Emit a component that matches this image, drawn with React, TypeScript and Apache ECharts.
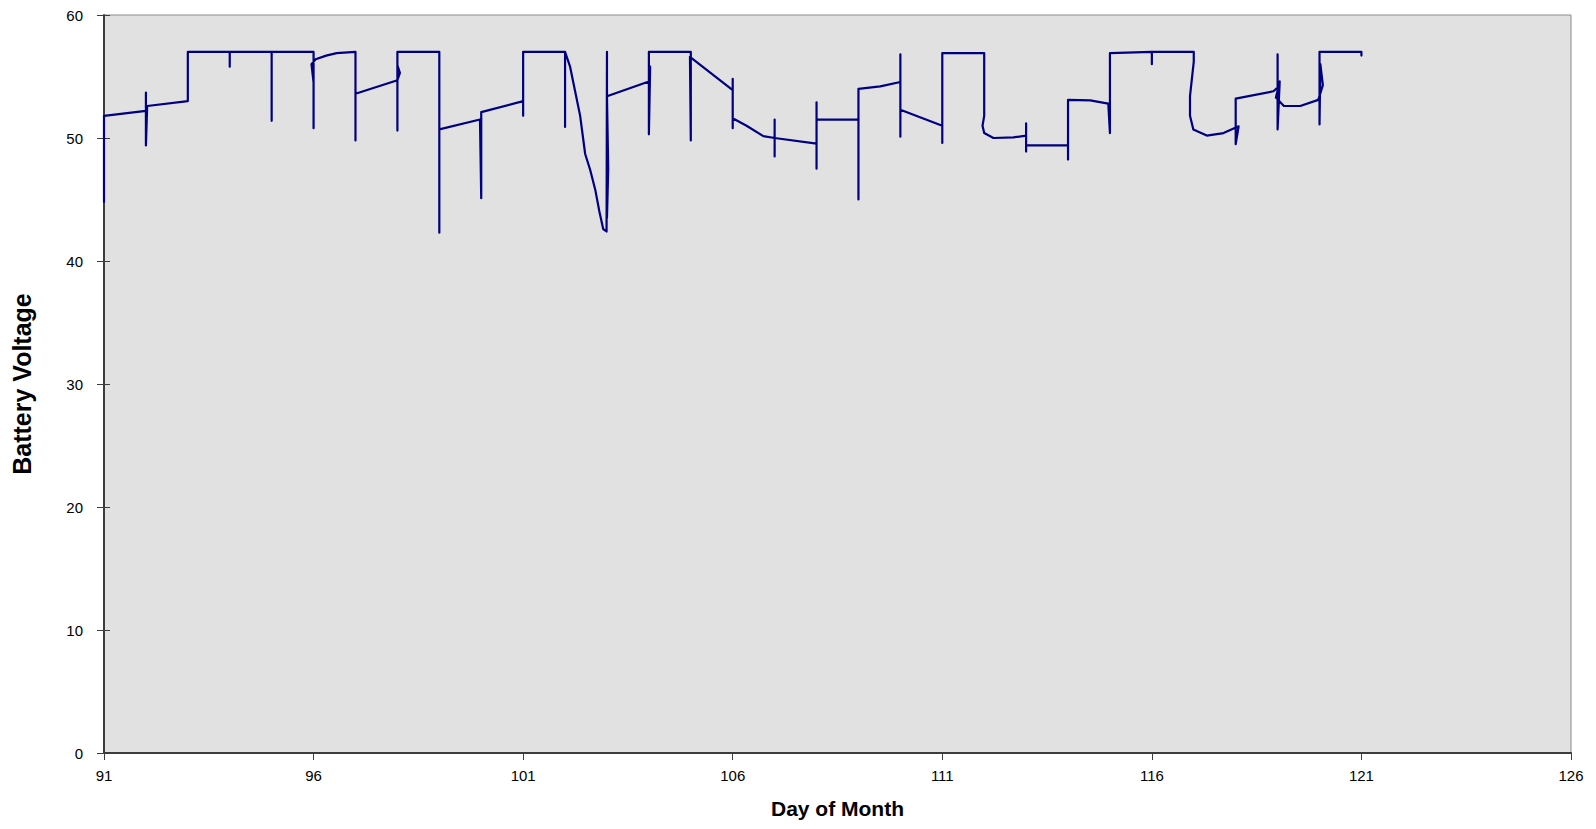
import React, { useEffect, useRef } from "react";
import * as echarts from "echarts";

// Day of month (x) and battery voltage (y), in drawing order of the trace
const dayValues: number[] = [
  91.0, 91.0, 92.0, 92.0, 92.0, 92.03, 93.0, 93.0, 93.0, 94.0, 94.0, 94.0,
  95.0, 95.0, 95.0, 96.0, 96.0, 96.0, 95.95, 96.05, 96.3, 96.55, 97.0, 97.0,
  97.0, 98.0, 98.06, 98.0, 98.0, 98.0, 99.0, 99.0, 99.0, 99.97, 100.0, 100.0,
  101.0, 101.0, 101.0, 102.0, 102.0, 102.0, 102.12, 102.24, 102.36, 102.48,
  102.6, 102.72, 102.82, 102.91, 102.99, 103.0, 103.0, 103.03, 103.0, 104.0,
  104.03, 104.0, 104.0, 105.0, 105.0, 104.98, 106.0, 106.0, 106.0, 106.0,
  106.33, 106.73, 107.0, 107.0, 107.0, 107.0, 108.0, 108.0, 108.0, 108.0,
  109.0, 109.0, 109.0, 109.52, 110.0, 110.0, 110.0, 110.0, 111.0, 111.0,
  111.0, 112.0, 112.0, 111.96, 112.0, 112.22, 112.7, 113.0, 113.0, 113.0,
  113.0, 114.0, 114.0, 114.0, 114.53, 114.96, 115.0, 115.0, 116.0, 116.0,
  116.0, 117.0, 117.0, 116.91, 116.91, 116.99, 117.31, 117.71, 118.07, 118.0,
  118.0, 118.9, 119.0, 119.0, 119.0, 119.05, 118.96, 119.15, 119.54, 119.97,
  120.08, 120.02, 120.0, 120.0, 121.0, 121.0,
];

const voltValues: number[] = [
  44.8, 51.8, 52.2, 53.7, 49.4, 52.6, 53.0, 53.2, 57.0, 57.0, 55.8, 57.0,
  57.0, 51.4, 57.0, 57.0, 50.8, 54.5, 56.0, 56.4, 56.7, 56.9, 57.0, 49.8,
  53.6, 54.7, 55.3, 55.9, 50.6, 57.0, 57.0, 42.3, 50.7, 51.5, 45.1, 52.1,
  53.0, 51.8, 57.0, 57.0, 50.9, 57.0, 55.8, 53.8, 51.8, 48.7,
  47.4, 45.8, 44.0, 42.6, 42.4, 57.0, 43.5, 47.5, 53.4, 54.6,
  55.8, 50.3, 57.0, 57.0, 49.8, 56.6, 53.9, 54.8, 50.8, 51.6,
  51.0, 50.15, 50.0, 51.5, 48.5, 50.0, 49.55, 52.9, 47.5, 51.5,
  51.5, 45.0, 54.0, 54.2, 54.55, 56.8, 50.1, 52.3, 51.0, 49.6,
  56.9, 56.9, 51.8, 51.0, 50.4, 50.0, 50.05, 50.2, 51.2, 48.9,
  49.4, 49.4, 48.25, 53.1, 53.06, 52.8, 50.4, 56.9, 57.0, 56.0,
  57.0, 57.0, 56.2, 53.4, 51.8, 50.7, 50.2, 50.4, 50.95, 49.5,
  53.2, 53.8, 54.1, 56.8, 50.7, 54.6, 53.3, 52.6, 52.6, 53.1,
  54.3, 56.0, 51.1, 57.0, 57.0, 56.7,
];

const xTicks = { min: 91, max: 126, interval: 5 };
const yTicks = { min: 0, max: 60, interval: 10 };

const FONT = "Arial, 'Liberation Sans', Helvetica, sans-serif";

export default function App() {
  const ref = useRef<HTMLDivElement>(null);

  useEffect(() => {
    if (!ref.current) return;
    const chart = echarts.init(ref.current, null, { renderer: "svg" });
    const points = dayValues.map((d, i) => [d, voltValues[i]]);
    chart.setOption({
      animation: false,
      backgroundColor: "#ffffff",
      textStyle: { fontFamily: FONT },
      grid: {
        left: 104,
        right: 25,
        top: 15,
        bottom: 76,
        show: true,
        backgroundColor: "#e1e1e1",
        borderColor: "#8c8c8c",
        borderWidth: 1,
      },
      xAxis: {
        type: "value",
        min: xTicks.min,
        max: xTicks.max,
        interval: xTicks.interval,
        name: "Day of Month",
        nameLocation: "middle",
        nameGap: 45,
        nameTextStyle: {
          fontFamily: FONT,
          fontSize: 21,
          fontWeight: "bold",
          color: "#000",
        },
        axisLine: { show: true, onZero: false, lineStyle: { color: "#3c3c3c", width: 2 } },
        axisTick: { show: true, inside: false, length: 7, lineStyle: { color: "#3c3c3c", width: 1 } },
        axisLabel: { show: true, margin: 15, fontSize: 15, color: "#000", fontFamily: FONT },
        splitLine: { show: false },
      },
      yAxis: [
        {
          type: "value",
          min: yTicks.min,
          max: yTicks.max,
          interval: yTicks.interval,
          name: "Battery Voltage",
          nameLocation: "middle",
          nameGap: 70,
          nameRotate: 90,
          nameTextStyle: {
            fontFamily: FONT,
            fontSize: 25,
            fontWeight: "bold",
            color: "#000",
          },
          axisLine: { show: true, onZero: false, lineStyle: { color: "#3c3c3c", width: 2 } },
          axisTick: { show: true, inside: false, length: 7, lineStyle: { color: "#3c3c3c", width: 1 } },
          axisLabel: { show: true, margin: 21, fontSize: 15, color: "#000", fontFamily: FONT },
          splitLine: { show: false },
        },
        {
          type: "value",
          position: "left",
          min: yTicks.min,
          max: yTicks.max,
          interval: yTicks.interval,
          axisLine: { show: false },
          axisTick: { show: true, inside: true, length: 6, lineStyle: { color: "#3c3c3c", width: 1 } },
          axisLabel: { show: false },
          splitLine: { show: false },
        },
      ],
      series: [
        {
          type: "line",
          name: "Battery Voltage",
          data: points,
          showSymbol: false,
          symbol: "none",
          smooth: false,
          lineStyle: { color: "#000080", width: 2.2, join: "round", cap: "round" },
          itemStyle: { color: "#000080" },
          z: 5,
        },
      ],
    });
    return () => chart.dispose();
  }, []);

  return (
    <div
      ref={ref}
      style={{ position: "fixed", left: 0, top: 0, width: 1596, height: 829, background: "#fff" }}
    />
  );
}
